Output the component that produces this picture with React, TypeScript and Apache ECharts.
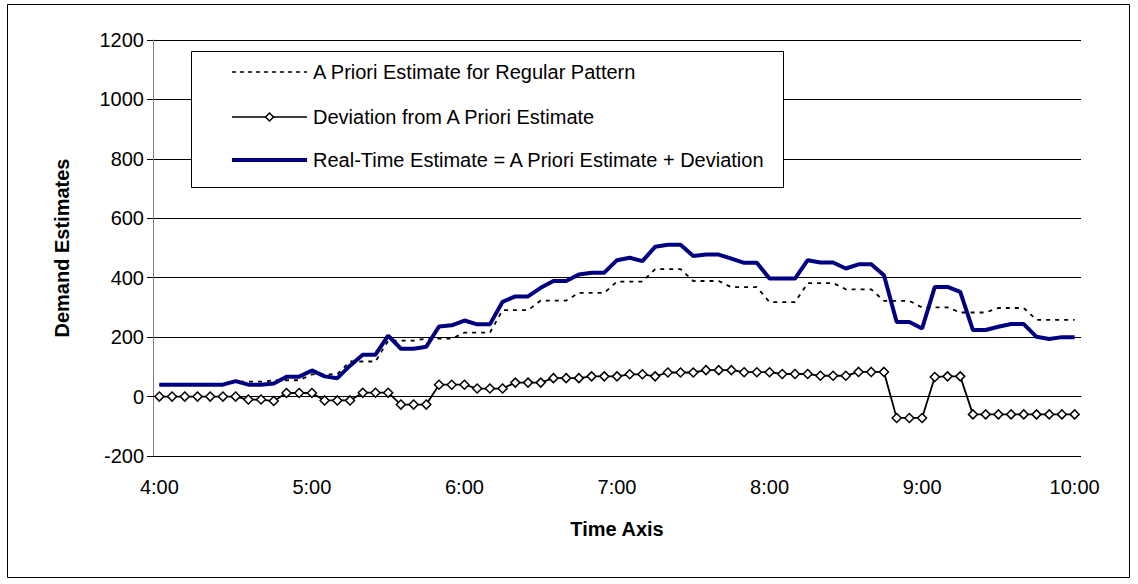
import { useEffect, useRef } from "react";
import * as echarts from "echarts";

// Five-minute time steps from 4:00 to 10:00
const times = [
  "4:00", "4:05", "4:10", "4:15", "4:20", "4:25", "4:30", "4:35", "4:40", "4:45", "4:50", "4:55",
  "5:00", "5:05", "5:10", "5:15", "5:20", "5:25", "5:30", "5:35", "5:40", "5:45", "5:50", "5:55",
  "6:00", "6:05", "6:10", "6:15", "6:20", "6:25", "6:30", "6:35", "6:40", "6:45", "6:50", "6:55",
  "7:00", "7:05", "7:10", "7:15", "7:20", "7:25", "7:30", "7:35", "7:40", "7:45", "7:50", "7:55",
  "8:00", "8:05", "8:10", "8:15", "8:20", "8:25", "8:30", "8:35", "8:40", "8:45", "8:50", "8:55",
  "9:00", "9:05", "9:10", "9:15", "9:20", "9:25", "9:30", "9:35", "9:40", "9:45", "9:50", "9:55",
  "10:00",
];

// Hour marks that carry a label on the time axis
const hourLabels = ["4:00", "5:00", "6:00", "7:00", "8:00", "9:00", "10:00"];

const seriesNames = [
  "A Priori Estimate for Regular Pattern",
  "Deviation from A Priori Estimate",
  "Real-Time Estimate = A Priori Estimate + Deviation",
];

// A priori estimate for the regular pattern (15-minute steps)
const aPriori = [
  40, 40, 40, 40, 40, 40, 50, 50, 50, 55, 55, 55,
  75, 75, 75, 118, 118, 118, 188, 188, 188, 195, 195, 195,
  215, 215, 215, 291, 291, 291, 323, 323, 323, 349, 349, 349,
  387, 387, 387, 429, 429, 429, 389, 389, 389, 368, 368, 368,
  318, 318, 318, 382, 382, 382, 361, 361, 361, 322, 322, 322,
  300, 300, 300, 283, 283, 283, 298, 298, 298, 258, 258, 258,
  258,
];

// Deviation from the a priori estimate
const deviation = [
  0, 0, 0, 0, 0, 0, 0, -10, -10, -15, 12, 12,
  12, -13, -13, -13, 13, 13, 13, -27, -27, -27, 40, 40,
  40, 27, 27, 27, 47, 47, 47, 62, 62, 62, 68, 68,
  68, 75, 75, 68, 81, 81, 81, 89, 89, 89, 82, 82,
  82, 76, 76, 76, 70, 70, 70, 83, 83, 83, -72, -72,
  -72, 66, 68, 68, -60, -60, -60, -60, -60, -60, -60, -60,
  -60,
];

// Real-time estimate
const realTime = [
  40, 40, 40, 40, 40, 40, 52, 40, 40, 44, 67, 67,
  88, 68, 62, 104, 141, 141, 205, 161, 161, 168, 236, 240,
  256, 243, 243, 319, 337, 337, 366, 389, 389, 411, 417, 417,
  459, 467, 456, 504, 511, 511, 473, 478, 478, 464, 450, 450,
  397, 397, 397, 459, 451, 451, 431, 445, 445, 408, 251, 251,
  229, 369, 369, 352, 224, 224, 235, 244, 244, 201, 194, 200,
  200,
];

const FONT = '"Liberation Sans", Arial, sans-serif';
const NAVY = "#000080";

export default function App() {
  const ref = useRef<HTMLDivElement>(null);

  useEffect(() => {
    if (!ref.current) return;
    const chart = echarts.init(ref.current, null, { renderer: "svg" });

    const legendText = (y: number, text: string) => ({
      type: "text",
      x: 313,
      y,
      z: 101,
      style: { text, fill: "#000", fontSize: 20, fontFamily: FONT, verticalAlign: "middle", align: "left" },
    });

    chart.setOption({
      animation: false,
      backgroundColor: "#fff",
      textStyle: { fontFamily: FONT },
      grid: { left: 153, right: 57, top: 40, bottom: 128, containLabel: false },
      xAxis: {
        type: "category",
        data: times,
        boundaryGap: true,
        axisLine: { show: true, lineStyle: { color: "#000", width: 1 } },
        axisTick: { show: false },
        axisLabel: {
          interval: (_i: number, v: string) => hourLabels.includes(v),
          color: "#000",
          fontSize: 20,
          fontFamily: FONT,
          margin: 21,
        },
        splitLine: { show: false },
        name: "Time Axis",
        nameLocation: "middle",
        nameGap: 63,
        nameTextStyle: { color: "#000", fontSize: 20, fontWeight: "bold", fontFamily: FONT },
      },
      yAxis: {
        type: "value",
        min: -200,
        max: 1200,
        interval: 200,
        axisLine: { show: true, lineStyle: { color: "#808080", width: 1 } },
        axisTick: { show: true, length: 6, lineStyle: { color: "#000" } },
        axisLabel: {
          color: "#000",
          fontSize: 20,
          fontFamily: FONT,
          margin: 9,
          formatter: (v: number) => String(v),
        },
        splitLine: { show: true, lineStyle: { color: "#000", width: 1 } },
        name: "Demand Estimates",
        nameLocation: "middle",
        nameRotate: 90,
        nameGap: 81,
        nameTextStyle: { color: "#000", fontSize: 20, fontWeight: "bold", fontFamily: FONT },
      },
      series: [
        {
          name: seriesNames[0],
          type: "line",
          data: aPriori,
          showSymbol: false,
          symbol: "none",
          lineStyle: { color: "#000", width: 1.8, type: [4, 5] },
          z: 2,
        },
        {
          name: seriesNames[1],
          type: "line",
          data: deviation,
          symbol: "diamond",
          symbolSize: 9,
          showAllSymbol: true,
          itemStyle: { color: "#fff", borderColor: "#000", borderWidth: 1.5 },
          lineStyle: { color: "#000", width: 1.8 },
          z: 3,
        },
        {
          name: seriesNames[2],
          type: "line",
          data: realTime,
          showSymbol: false,
          symbol: "none",
          lineStyle: { color: NAVY, width: 4 },
          z: 4,
        },
      ],
      graphic: [
        {
          type: "rect",
          z: 100,
          shape: { x: 7.5, y: 4.5, width: 1122, height: 573 },
          style: { fill: "none", stroke: "#000", lineWidth: 1 },
          silent: true,
        },
        {
          type: "rect",
          z: 100,
          shape: { x: 191.5, y: 51.5, width: 592, height: 136 },
          style: { fill: "#fff", stroke: "#000", lineWidth: 1 },
        },
        {
          type: "line",
          z: 101,
          shape: { x1: 232, y1: 72, x2: 307, y2: 72 },
          style: { stroke: "#000", lineWidth: 1.5, lineDash: [4, 4] },
        },
        legendText(72, seriesNames[0]),
        {
          type: "line",
          z: 101,
          shape: { x1: 232, y1: 117, x2: 307, y2: 117 },
          style: { stroke: "#000", lineWidth: 1.5 },
        },
        {
          type: "polygon",
          z: 102,
          shape: { points: [[269.5, 113], [273.5, 117], [269.5, 121], [265.5, 117]] },
          style: { fill: "#fff", stroke: "#000", lineWidth: 1.5 },
        },
        legendText(117, seriesNames[1]),
        {
          type: "line",
          z: 101,
          shape: { x1: 232, y1: 160, x2: 307, y2: 160 },
          style: { stroke: NAVY, lineWidth: 4 },
        },
        legendText(160, seriesNames[2]),
      ],
    });

    return () => chart.dispose();
  }, []);

  return (
    <div
      ref={ref}
      style={{ position: "fixed", left: 0, top: 0, width: 1138, height: 584, background: "#fff" }}
    />
  );
}
